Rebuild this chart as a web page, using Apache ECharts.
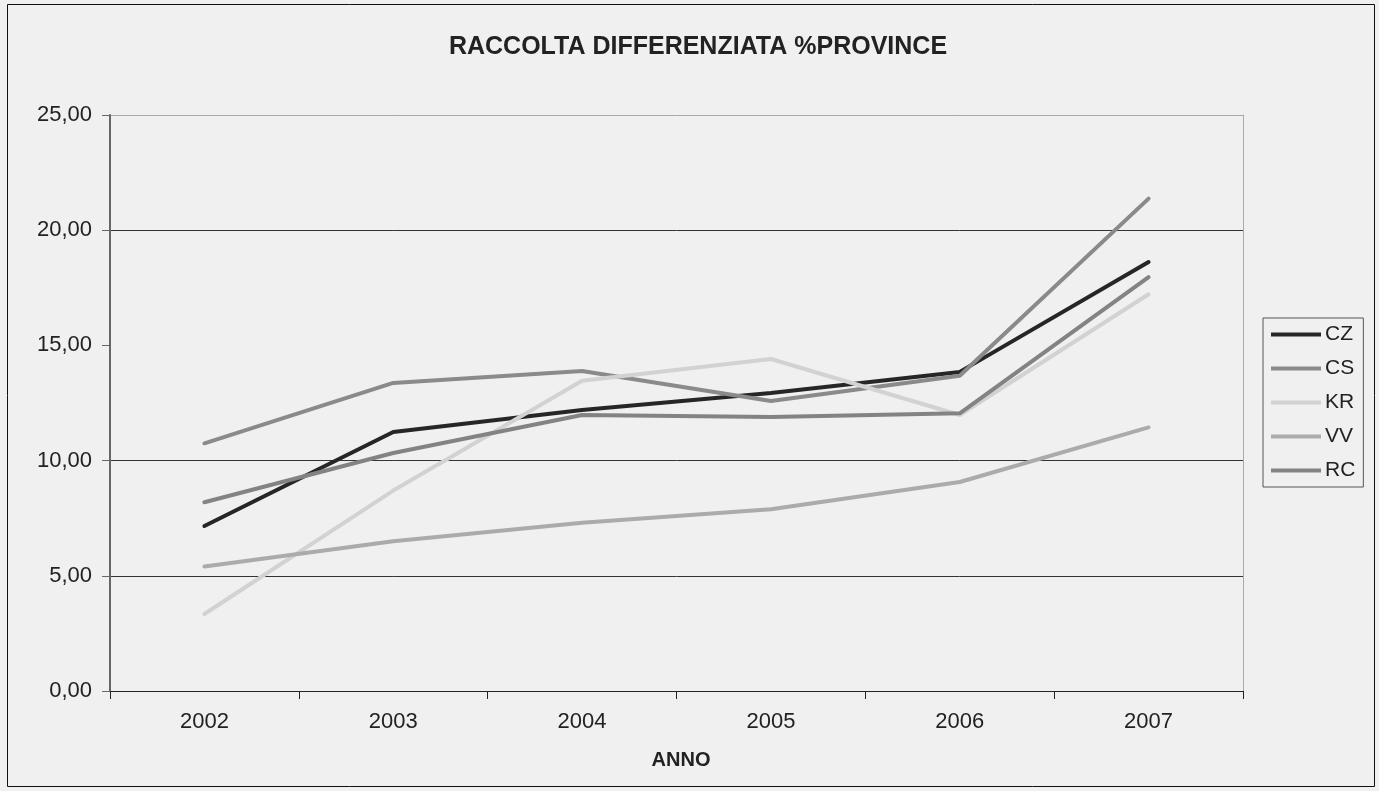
<!DOCTYPE html>
<html><head><meta charset="utf-8">
<script src="https://cdn.jsdelivr.net/npm/echarts@6/dist/echarts.min.js"></script>
<style>html,body{margin:0;padding:0;background:#f0f0f0}#c{width:1379px;height:791px}</style>
</head><body><div id="c"></div>
<script>
const years = ['2002','2003','2004','2005','2006','2007'];
const CZ = [7.16, 11.24, 12.20, 12.93, 13.85, 18.62];
const CS = [10.75, 13.37, 13.89, 12.59, 13.68, 21.37];
const KR = [3.34, 8.70, 13.47, 14.41, 11.98, 17.22];
const VV = [5.40, 6.50, 7.30, 7.89, 9.07, 11.44];
const RC = [8.19, 10.33, 11.98, 11.89, 12.05, 17.96];
const yTicks = [0, 5, 10, 15, 20, 25];

const chart = echarts.init(document.getElementById('c'));
const mk = (name, data, color) => ({
  name, type: 'line', data, symbol: 'none', silent: true,
  lineStyle: { color, width: 4, cap: 'round', join: 'round' },
  itemStyle: { color }
});
const font = '"Liberation Sans", Arial, sans-serif';
chart.setOption({
  backgroundColor: '#f0f0f0',
  animation: false,
  textStyle: { fontFamily: font },
  title: {
    text: 'RACCOLTA DIFFERENZIATA %PROVINCE',
    left: 693, top: 30, textAlign: 'center',
    textStyle: { fontSize: 25, fontWeight: 'bold', color: '#222', fontFamily: font }
  },
  graphic: [
    { type: 'rect', shape: { x: 7.5, y: 4.5, width: 1367, height: 782 }, style: { fill: 'none', stroke: '#111', lineWidth: 1 }, silent: true },
    { type: 'text', x: 681, y: 760, style: { text: 'ANNO', font: 'bold 20px "Liberation Sans", Arial', fill: '#222', align: 'center', verticalAlign: 'middle' } }
  ],
  grid: { left: 110, right: 136, top: 115, bottom: 100 },
  legend: {
    orient: 'vertical', left: 1263, top: 318,
    padding: [6, 8, 6, 8], itemGap: 13, itemWidth: 50, itemHeight: 4, icon: 'rect',
    borderColor: '#555', borderWidth: 1,
    textStyle: { fontSize: 21, color: '#222', padding: [0, 0, 0, -1] },
    data: ['CZ', 'CS', 'KR', 'VV', 'RC']
  },
  xAxis: {
    type: 'category', data: years, boundaryGap: true,
    axisLine: { lineStyle: { color: '#222', width: 1 } },
    axisTick: { show: true, interval: 0, length: 8, lineStyle: { color: '#222' } },
    axisLabel: { fontSize: 22, color: '#222', margin: 20 }
  },
  yAxis: [{
    type: 'value', min: 0, max: 25, interval: 5,
    axisLine: { show: true, lineStyle: { color: '#666', width: 2 } },
    axisTick: { show: true, length: 8, inside: false, lineStyle: { color: '#666' } },
    axisLabel: { fontSize: 22, color: '#222', margin: 18, formatter: v => v.toFixed(2).replace('.', ',') },
    splitLine: { show: true, lineStyle: { color: ['rgba(0,0,0,0)', '#333', '#333', 'rgba(0,0,0,0)', '#333', '#aaa'], width: 1 } }
  }, {
    type: 'value', min: 0, max: 25, interval: 5, position: 'right',
    axisLine: { show: true, lineStyle: { color: '#aaa', width: 1 } },
    axisTick: { show: false }, axisLabel: { show: false }, splitLine: { show: false }
  }],
  series: [
    mk('CZ', CZ, '#262626'),
    mk('CS', CS, '#8a8a8a'),
    mk('KR', KR, '#d2d2d2'),
    mk('VV', VV, '#ababab'),
    mk('RC', RC, '#838383')
  ]
});
</script></body></html>
